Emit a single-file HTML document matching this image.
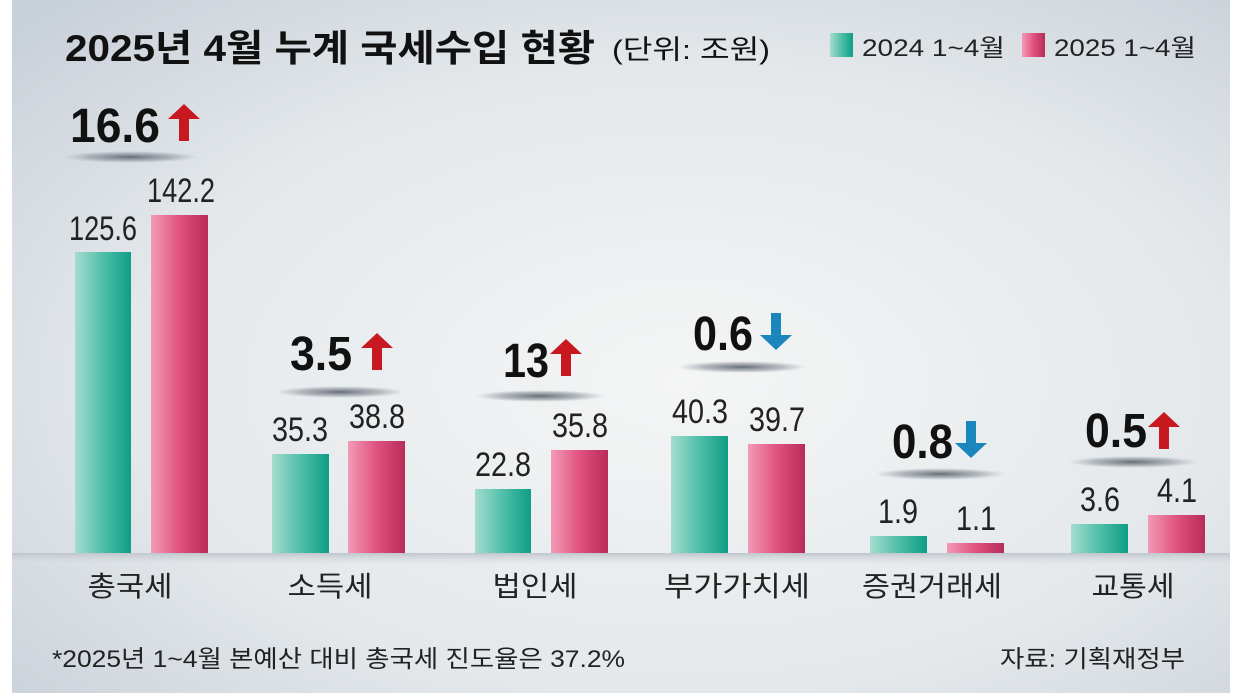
<!DOCTYPE html>
<html><head><meta charset="utf-8"><style>
html,body{margin:0;padding:0;width:1244px;height:693px;overflow:hidden;background:#fff}
svg{display:block}
text{font-family:"Liberation Sans Narrow","Liberation Sans","Noto Sans CJK KR",sans-serif}
</style></head><body>
<svg width="1244" height="693" viewBox="0 0 1244 693">
<defs>
<radialGradient id="bg" cx="0.55" cy="0.55" r="0.75">
<stop offset="0" stop-color="#f4f5f5"/><stop offset="0.6" stop-color="#e4e8eb"/><stop offset="1" stop-color="#c8d0d8"/>
</radialGradient>
<linearGradient id="tg" x1="0" x2="1"><stop offset="0" stop-color="#a5dccf"/><stop offset="0.5" stop-color="#4fbfa8"/><stop offset="1" stop-color="#0f9d86"/></linearGradient>
<linearGradient id="pg" x1="0" x2="1"><stop offset="0" stop-color="#f39ab7"/><stop offset="0.5" stop-color="#e0527f"/><stop offset="1" stop-color="#b82c5a"/></linearGradient>
<radialGradient id="sh" cx="0.5" cy="0.5" r="0.5"><stop offset="0" stop-color="#5f666e" stop-opacity="0.95"/><stop offset="0.6" stop-color="#8a929a" stop-opacity="0.6"/><stop offset="1" stop-color="#9aa2aa" stop-opacity="0"/></radialGradient>
<linearGradient id="base" x1="0" y1="0" x2="0" y2="1"><stop offset="0" stop-color="#bfc5cb"/><stop offset="1" stop-color="#e6e9ec" stop-opacity="0"/></linearGradient>
</defs>
<rect x="12" y="0" width="1218" height="693" fill="url(#bg)"/>
<rect x="12" y="553" width="1218" height="14" fill="url(#base)"/>

<text x="65" y="61" font-size="37" font-weight="bold" fill="#111" textLength="530" lengthAdjust="spacingAndGlyphs">2025년 4월 누계 국세수입 현황</text>
<text x="612" y="59" font-size="27" fill="#111" textLength="158" lengthAdjust="spacingAndGlyphs">(단위: 조원)</text>
<rect x="830" y="33" width="23" height="24" fill="url(#tg)"/>
<text x="862" y="56" font-size="24" fill="#222" textLength="143" lengthAdjust="spacingAndGlyphs">2024 1~4월</text>
<rect x="1022" y="33" width="23" height="24" fill="url(#pg)"/>
<text x="1054" y="56" font-size="24" fill="#222" textLength="142" lengthAdjust="spacingAndGlyphs">2025 1~4월</text>

<g>
<rect x="75" y="252" width="56" height="301" fill="url(#tg)"/>
<rect x="151" y="215" width="57" height="338" fill="url(#pg)"/>
<rect x="272" y="454" width="57" height="99" fill="url(#tg)"/>
<rect x="348" y="441" width="57" height="112" fill="url(#pg)"/>
<rect x="475" y="489" width="56" height="64" fill="url(#tg)"/>
<rect x="551" y="450" width="57" height="103" fill="url(#pg)"/>
<rect x="671" y="436" width="57" height="117" fill="url(#tg)"/>
<rect x="748" y="444" width="57" height="109" fill="url(#pg)"/>
<rect x="870" y="536" width="57" height="17" fill="url(#tg)"/>
<rect x="947" y="543" width="57" height="10" fill="url(#pg)"/>
<rect x="1071" y="524" width="57" height="29" fill="url(#tg)"/>
<rect x="1148" y="515" width="57" height="38" fill="url(#pg)"/>
</g>

<g font-size="34" fill="#222" text-anchor="middle">
<text x="103" y="240" textLength="68" lengthAdjust="spacingAndGlyphs">125.6</text><text x="181" y="202" textLength="68" lengthAdjust="spacingAndGlyphs">142.2</text>
<text x="300" y="441" textLength="56" lengthAdjust="spacingAndGlyphs">35.3</text><text x="377" y="428" textLength="56" lengthAdjust="spacingAndGlyphs">38.8</text>
<text x="503" y="476" textLength="56" lengthAdjust="spacingAndGlyphs">22.8</text><text x="580" y="437" textLength="56" lengthAdjust="spacingAndGlyphs">35.8</text>
<text x="700" y="423" textLength="56" lengthAdjust="spacingAndGlyphs">40.3</text><text x="777" y="431" textLength="56" lengthAdjust="spacingAndGlyphs">39.7</text>
<text x="898" y="523" textLength="40" lengthAdjust="spacingAndGlyphs">1.9</text><text x="976" y="530" textLength="40" lengthAdjust="spacingAndGlyphs">1.1</text>
<text x="1100" y="511" textLength="40" lengthAdjust="spacingAndGlyphs">3.6</text><text x="1177" y="502" textLength="40" lengthAdjust="spacingAndGlyphs">4.1</text>
</g>

<g font-size="28" fill="#222" text-anchor="middle">
<text x="130" y="596" textLength="85" lengthAdjust="spacingAndGlyphs">총국세</text>
<text x="330" y="596" textLength="85" lengthAdjust="spacingAndGlyphs">소득세</text>
<text x="535" y="596" textLength="85" lengthAdjust="spacingAndGlyphs">법인세</text>
<text x="737" y="596" textLength="146" lengthAdjust="spacingAndGlyphs">부가가치세</text>
<text x="932" y="596" textLength="140" lengthAdjust="spacingAndGlyphs">증권거래세</text>
<text x="1133" y="596" textLength="83" lengthAdjust="spacingAndGlyphs">교통세</text>
</g>

<g>
<ellipse cx="130" cy="157" rx="68" ry="6" fill="url(#sh)"/>
<ellipse cx="340" cy="392" rx="65" ry="6" fill="url(#sh)"/>
<ellipse cx="540" cy="396" rx="65" ry="6" fill="url(#sh)"/>
<ellipse cx="742" cy="367" rx="65" ry="6" fill="url(#sh)"/>
<ellipse cx="940" cy="474" rx="65" ry="6" fill="url(#sh)"/>
<ellipse cx="1133" cy="462" rx="65" ry="6" fill="url(#sh)"/>
</g>

<g font-size="48" font-weight="bold" fill="#111">
<text x="70" y="142" textLength="90" lengthAdjust="spacingAndGlyphs">16.6</text>
<text x="290" y="370" textLength="62" lengthAdjust="spacingAndGlyphs">3.5</text>
<text x="503" y="377" textLength="46" lengthAdjust="spacingAndGlyphs">13</text>
<text x="693" y="350" textLength="60" lengthAdjust="spacingAndGlyphs">0.6</text>
<text x="892" y="458" textLength="61" lengthAdjust="spacingAndGlyphs">0.8</text>
<text x="1085" y="447" textLength="62" lengthAdjust="spacingAndGlyphs">0.5</text>
</g>
<g fill="#c81820">
<path d="M184 104 l16 15 h-11 v22 h-10 v-22 h-11 z"/>
<path d="M377 333 l16 15 h-11 v22 h-10 v-22 h-11 z"/>
<path d="M566 339 l16 15 h-11 v22 h-10 v-22 h-11 z"/>
<path d="M1164 412 l16 15 h-11 v22 h-10 v-22 h-11 z"/>
</g>
<g fill="#1a86bb">
<path d="M776 350 l16 -15 h-11 v-22 h-10 v22 h-11 z"/>
<path d="M971 458 l16 -15 h-11 v-22 h-10 v22 h-11 z"/>
</g>

<text x="52" y="667" font-size="24" fill="#222" textLength="573" lengthAdjust="spacingAndGlyphs">*2025년 1~4월 본예산 대비 총국세 진도율은 37.2%</text>
<text x="1185" y="667" font-size="24" fill="#222" text-anchor="end" textLength="185" lengthAdjust="spacingAndGlyphs">자료: 기획재정부</text>
</svg>
</body></html>
